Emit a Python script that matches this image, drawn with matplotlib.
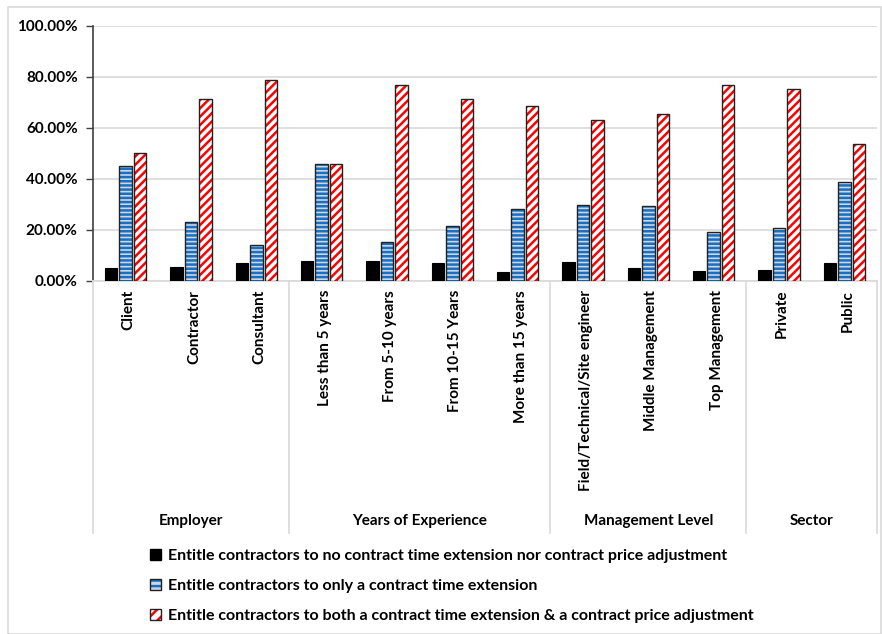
import matplotlib.pyplot as plt
import matplotlib.patches as mpatches
from matplotlib.legend_handler import HandlerTuple
from matplotlib.ticker import FuncFormatter
import numpy as np

# Survey responses, in percent of each respondent group.
categories = ['Client', 'Contractor', 'Consultant',
              'Less than 5 years', 'From 5-10 years', 'From 10-15 Years', 'More than 15 years',
              'Field/Technical/Site engineer', 'Middle Management', 'Top Management',
              'Private', 'Public']
groups = ['Employer', 'Years of Experience', 'Management Level', 'Sector']
group_sizes = [3, 4, 3, 2]

no_extension = [5.0, 5.5, 7.2, 7.9, 7.9, 7.2, 3.4, 7.6, 5.0, 3.8, 4.2, 7.2]
time_only = [45.1, 23.2, 14.2, 45.9, 15.3, 21.4, 28.2, 29.6, 29.4, 19.1, 20.6, 38.9]
time_and_price = [50.0, 71.3, 78.6, 45.9, 76.8, 71.3, 68.4, 62.9, 65.5, 76.8, 75.4, 53.5]

series_names = [
    'Entitle contractors to no contract time extension nor contract price adjustment',
    'Entitle contractors to only a contract time extension',
    'Entitle contractors to both a contract time extension & a contract price adjustment',
]

plt.rcParams['font.family'] = ['Lato', 'DejaVu Sans']
plt.rcParams['font.weight'] = 'bold'
plt.rcParams['hatch.linewidth'] = 1.8

W, H = 882, 634
fig = plt.figure(figsize=(W / 100, H / 100), dpi=100)

# Light frame round the whole chart area.
fig.patches.append(mpatches.Rectangle((8 / W, 0), (W - 9) / W, (H - 7) / H,
                                      transform=fig.transFigure, fill=False,
                                      edgecolor='#d9d9d9', linewidth=1.2))

ax_left, ax_right = 93, 877
ax_top, ax_bottom = 25.7, 281
ax = fig.add_axes([ax_left / W, 1 - ax_bottom / H,
                   (ax_right - ax_left) / W, (ax_bottom - ax_top) / H])

x = np.arange(len(categories))
offset = 0.222
width = 0.19

ax.bar(x - offset, no_extension, width, color='black', edgecolor='black', linewidth=0.8, zorder=3)

ax.bar(x, time_only, width, color='#c9d7e6', edgecolor='#1a6fc0', hatch='----', linewidth=0, zorder=3)
ax.bar(x, time_only, width, fill=False, edgecolor='#222222', linewidth=1.0, zorder=4)

ax.bar(x + offset, time_and_price, width, color='white', edgecolor='#ff0000', hatch='////', linewidth=0, zorder=3)
ax.bar(x + offset, time_and_price, width, fill=False, edgecolor='#222222', linewidth=1.0, zorder=4)

ax.set_xlim(-0.5, len(categories) - 0.5)
ax.set_ylim(0, 100)
ax.set_yticks(np.arange(0, 101, 20))
ax.yaxis.set_major_formatter(FuncFormatter(lambda v, p: '%.2f%%' % v))
ax.tick_params(axis='y', labelsize=11, length=5, width=1, color='#404040', pad=6)
ax.set_xticks([])
ax.grid(axis='y', color='#d9d9d9', linewidth=1.2, zorder=0)

for side in ['top', 'right']:
    ax.spines[side].set_visible(False)
ax.spines['left'].set_color('#404040')
ax.spines['left'].set_linewidth(1.2)
ax.spines['bottom'].set_color('#d9d9d9')
ax.spines['bottom'].set_linewidth(1.2)

# Category labels, rotated, under each cluster.
label_top = 1 - 290 / H
cell = (ax_right - ax_left) / len(categories)
for i, name in enumerate(categories):
    xf = (ax_left + (i + 0.5) * cell + 3) / W
    fig.text(xf, label_top, name, rotation=90, ha='center', va='top', fontsize=11)

# Group labels and the separators between groups.
sep_bottom = 1 - 533 / H
start = 0
for name, size in zip(groups, group_sizes):
    x0 = ax_left + start * cell
    x1 = ax_left + (start + size) * cell
    fig.add_artist(plt.Line2D([x0 / W, x0 / W], [1 - ax_bottom / H, sep_bottom],
                              color='#d9d9d9', linewidth=1.2))
    fig.text((x0 + x1) / 2 / W, 1 - 521 / H, name, ha='center', va='center', fontsize=11)
    start += size
fig.add_artist(plt.Line2D([ax_right / W, ax_right / W], [1 - ax_bottom / H, sep_bottom],
                          color='#d9d9d9', linewidth=1.2))

# Legend under the chart: hatched swatch with a dark outline on top.
handles = [
    (mpatches.Patch(facecolor='black', edgecolor='black'),),
    (mpatches.Patch(facecolor='#c9d7e6', edgecolor='#1a6fc0', hatch='---', linewidth=0),
     mpatches.Patch(fill=False, edgecolor='#222222', linewidth=1.0)),
    (mpatches.Patch(facecolor='white', edgecolor='#ff0000', hatch='///', linewidth=0),
     mpatches.Patch(fill=False, edgecolor='#222222', linewidth=1.0)),
]
fig.legend(handles, series_names, loc='upper left', bbox_to_anchor=(150 / W, 1 - 549 / H),
           frameon=False, fontsize=11.5, handlelength=0.7, handleheight=0.7,
           handletextpad=0.45, labelspacing=1.0, borderpad=0, borderaxespad=0,
           handler_map={tuple: HandlerTuple(ndivide=1, pad=0)})

fig.savefig('out.png', dpi=100)
